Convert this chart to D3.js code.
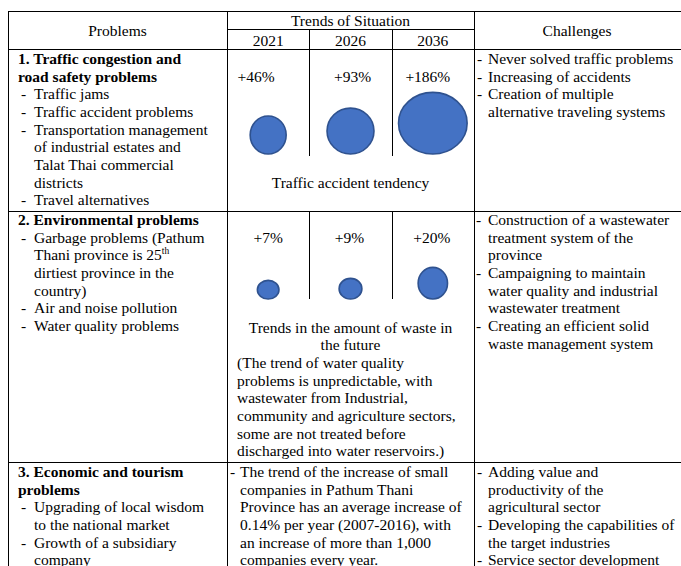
<!DOCTYPE html>
<html><head><meta charset="utf-8">
<script src="https://cdn.jsdelivr.net/npm/d3@7"></script>
<style>
html,body{margin:0;padding:0;background:#fff;}
svg{display:block;}
text{font-family:"Liberation Serif","Times New Roman",Times,serif;font-size:15.5px;fill:#000;}
</style>
</head><body>
<svg id="c" width="681" height="566" font-family="Liberation Serif, Times New Roman, serif"></svg>
<script>
// ---------- data ----------
const years = ["2021", "2026", "2036"];
const trafficValues = [46, 93, 186];
const wasteValues = [7, 9, 20];
const headerProblems = "Problems";
const headerTrends = "Trends of Situation";
const headerChallenges = "Challenges";
const trafficCaption = ["Traffic accident tendency"];
const wasteCaptionCentered = ["Trends in the amount of waste in", "the future"];
const wasteCaptionLeft = ["(The trend of water quality", "problems is unpredictable, with",
  "wastewater from Industrial,", "community and agriculture sectors,",
  "some are not treated before", "discharged into water reservoirs.)"];
const problems1 = [{b:"1. Traffic congestion and"},{b:"road safety problems"},{d:"Traffic jams"},
  {d:"Traffic accident problems"},{d:"Transportation management"},{c:"of industrial estates and"},
  {c:"Talat Thai commercial"},{c:"districts"},{d:"Travel alternatives"}];
const problems2 = [{b:"2. Environmental problems"},{d:"Garbage problems (Pathum"},{c:"Thani province is 25", sup:"th"},
  {c:"dirtiest province in the"},{c:"country)"},{d:"Air and noise pollution"},{d:"Water quality problems"}];
const problems3 = [{b:"3. Economic and tourism"},{b:"problems"},{d:"Upgrading of local wisdom"},
  {c:"to the national market"},{d:"Growth of a subsidiary"},{c:"company"}];
const challenges1 = [{d:"Never solved traffic problems"},{d:"Increasing of accidents"},
  {d:"Creation of multiple"},{c:"alternative traveling systems"}];
const challenges2 = [{d:"Construction of a wastewater"},{c:"treatment system of the"},{c:"province"},
  {d:"Campaigning to maintain"},{c:"water quality and industrial"},{c:"wastewater treatment"},
  {d:"Creating an efficient solid"},{c:"waste management system"}];
const challenges3 = [{d:"Adding value and"},{c:"productivity of the"},{c:"agricultural sector"},
  {d:"Developing the capabilities of"},{c:"the target industries"},{d:"Service sector development"}];
const trends3 = [{d:"The trend of the increase of small"},{c:"companies in Pathum Thani"},
  {c:"Province has an average increase of"},{c:"0.14% per year (2007-2016), with"},
  {c:"an increase of more than 1,000"},{c:"companies every year."}];

// ---------- layout ----------
const svg = d3.select("#c");
const LH = 17.65;
const xL = 8, xC1 = 227, xC2 = 474, xR = 684;
const yTop = 11, yMid = 29, yHead = 49, yRow1 = 211, yRow2 = 461.5;
const x = d3.scaleBand().domain(years).range([xC1, xC2]);

const g = svg.append("g");
function hline(x1, x2, y) {
  g.append("line").attr("x1", x1).attr("x2", x2).attr("y1", Math.round(y) + 0.5).attr("y2", Math.round(y) + 0.5)
    .attr("stroke", "#000").attr("stroke-width", 1);
}
function vline(xx, y1, y2) {
  g.append("line").attr("x1", Math.round(xx) + 0.5).attr("x2", Math.round(xx) + 0.5).attr("y1", y1).attr("y2", y2)
    .attr("stroke", "#000").attr("stroke-width", 1);
}
hline(xL, xR, yTop); hline(xC1, xC2, yMid); hline(xL, xR, yHead); hline(xL, xR, yRow1); hline(xL, xR, yRow2);
vline(xL, yTop, 566); vline(xC1, yTop, 566); vline(xC2, yTop, 566);
years.slice(1).forEach(yv => { vline(x(yv), yMid, 156); vline(x(yv), yRow1, 299); });

function txt(s, tx, ty, anchor, bold) {
  return svg.append("text").attr("x", tx).attr("y", ty).attr("text-anchor", anchor || "start")
    .attr("font-family", "Liberation Serif, Times New Roman, serif")
    .attr("font-weight", bold ? "bold" : null).text(s);
}
// header
txt(headerProblems, (xL + xC1) / 2, 36, "middle");
txt(headerChallenges, 577, 36, "middle");
txt(headerTrends, (xC1 + xC2) / 2, 26, "middle");
years.forEach(yv => txt(yv, x(yv) + x.bandwidth() / 2, 45.5, "middle"));

// text blocks
function block(lines, boldX, dashX, textX, y0) {
  lines.forEach((l, i) => {
    const yy = y0 + i * LH;
    if (l.b) txt(l.b, boldX, yy, "start", true);
    else {
      if (l.d) txt("-", dashX, yy);
      const t = txt(l.d || l.c, textX, yy);
      if (l.sup) t.append("tspan").attr("dy", -6).attr("font-size", "9.5px").text(l.sup);
    }
  });
}
block(problems1, 18, 21, 34, 64);
block(problems2, 18, 21, 34, 225);
block(problems3, 18, 21, 34, 477);
block(challenges1, 0, 477, 488, 64);
block(challenges2, 0, 476, 488, 225);
block(challenges3, 0, 477, 488, 477);
block(trends3, 0, 230, 240, 477);

// bubbles
function bubbleRow(values, rxRange, ryRange, bottom, labelY, labelDx) {
  const ext = d3.extent(values);
  const rx = d3.scaleLinear().domain(ext).range(rxRange);
  const ry = d3.scaleLinear().domain(ext).range(ryRange);
  const cx = (d, i) => x(years[i]) + x.bandwidth() / 2;
  svg.append("g").selectAll("ellipse").data(values).join("ellipse")
    .attr("cx", cx).attr("cy", d => bottom - ry(d)).attr("rx", d => rx(d)).attr("ry", d => ry(d))
    .attr("fill", "#4472C4").attr("stroke", "#2F528F").attr("stroke-width", 1.6);
  svg.append("g").selectAll("text").data(values).join("text")
    .attr("x", (d, i) => cx(d, i) + labelDx[i]).attr("y", labelY).attr("text-anchor", "middle")
    .attr("font-family", "Liberation Serif, Times New Roman, serif")
    .text(d => "+" + d + "%");
}
bubbleRow(trafficValues, [18, 34.3], [19, 30.8], 154, 82, [-12, 2, -5]);
bubbleRow(wasteValues, [10.8, 14.7], [9.3, 15.8], 299, 242.6, [0, -1, -1]);

// captions
const cmid = (xC1 + xC2) / 2;
trafficCaption.forEach((s, i) => txt(s, cmid, 188 + i * LH, "middle"));
wasteCaptionCentered.forEach((s, i) => txt(s, cmid, 332.7 + i * LH, "middle"));
wasteCaptionLeft.forEach((s, i) => txt(s, 237, 332.7 + (i + 2) * LH));
</script>
</body></html>
